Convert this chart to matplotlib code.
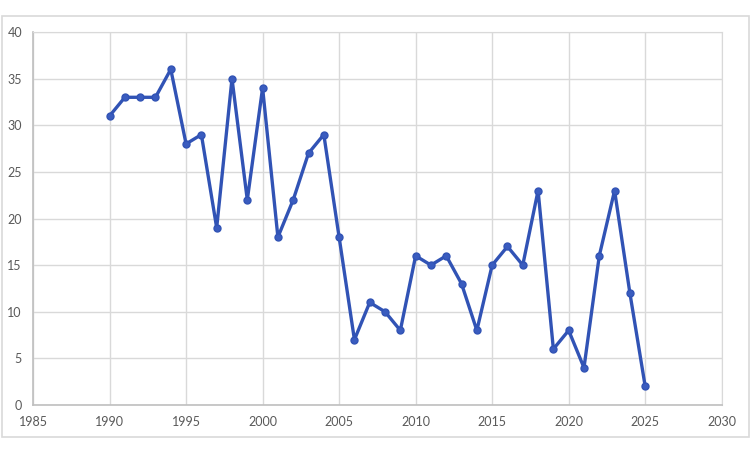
import matplotlib.pyplot as plt
from matplotlib.patches import Rectangle

years = [1990, 1991, 1992, 1993, 1994, 1995, 1996, 1997, 1998, 1999,
         2000, 2001, 2002, 2003, 2004, 2005, 2006, 2007, 2008, 2009,
         2010, 2011, 2012, 2013, 2014, 2015, 2016, 2017, 2018, 2019,
         2020, 2021, 2022, 2023, 2024, 2025]
values = [31, 33, 33, 33, 36, 28, 29, 19, 35, 22,
          34, 18, 22, 27, 29, 18, 7, 11, 10, 8,
          16, 15, 16, 13, 8, 15, 17, 15, 23, 6,
          8, 4, 16, 23, 12, 2]
xticks = [1985, 1990, 1995, 2000, 2005, 2010, 2015, 2020, 2025, 2030]
yticks = [0, 5, 10, 15, 20, 25, 30, 35, 40]

plt.rcParams['font.family'] = ['Lato', 'DejaVu Sans']

fig = plt.figure(figsize=(7.51, 4.51), dpi=100)
fig.patches.append(Rectangle((0.002, 0.03), 0.995, 0.935, transform=fig.transFigure,
                             fill=False, edgecolor='#d9d9d9', linewidth=1.2))
ax = fig.add_axes([0.044, 0.102, 0.917, 0.827])

ax.plot(years, values, color='#3153b5', linewidth=2.4,
        marker='o', markersize=5, markerfacecolor='#3a5cbf', markeredgecolor='#3153b5')

ax.set_xlim(1985, 2030)
ax.set_ylim(0, 40)
ax.set_xticks(xticks)
ax.set_yticks(yticks)
ax.grid(True, color='#d9d9d9', linewidth=1.0)
ax.set_axisbelow(True)
for s in ['top', 'right']:
    ax.spines[s].set_color('#d9d9d9')
for s in ['left', 'bottom']:
    ax.spines[s].set_color('#bfbfbf')
    ax.spines[s].set_linewidth(1.2)
ax.tick_params(length=0, labelsize=9, colors='#595959', pad=8)

fig.savefig('out.png', dpi=100)
